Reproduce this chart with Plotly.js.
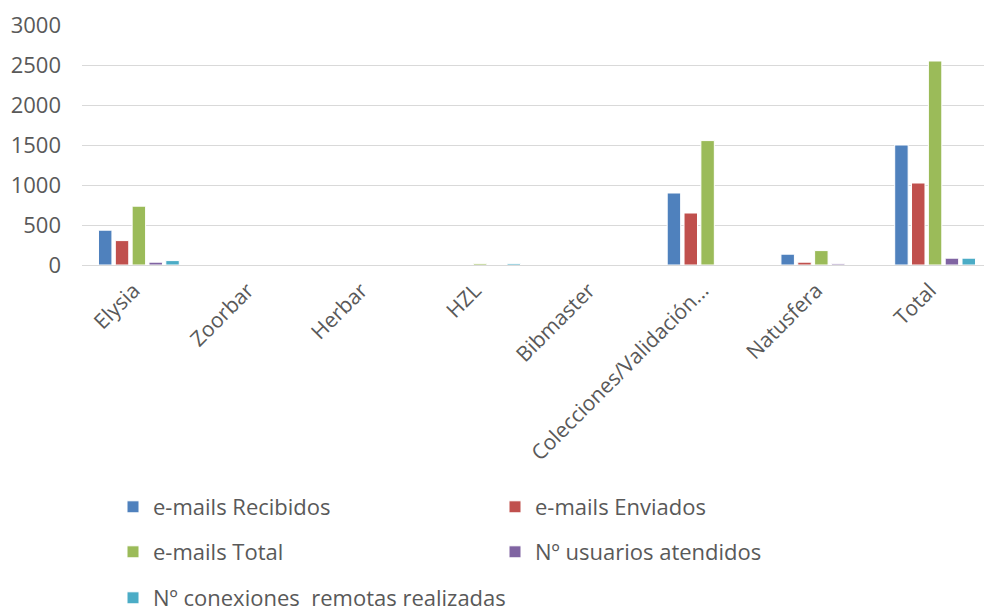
<!DOCTYPE html>
<html>
<head>
<meta charset="utf-8">
<script src="https://cdn.plot.ly/plotly-3.0.1.min.js"></script>
<style>html,body{margin:0;padding:0;background:#fff;}#chart{width:984px;height:611px;}</style>
</head>
<body>
<div id="chart"></div>
<script>
const categories = ["Elysia", "Zoorbar", "Herbar", "HZL", "Bibmaster", "Colecciones/Validación...", "Natusfera", "Total"];
const emailsRecibidos = [435, 0, 0, 0, 0, 900, 135, 1500];
const emailsEnviados = [305, 0, 0, 0, 0, 650, 35, 1025];
const emailsTotal = [735, 0, 0, 20, 0, 1555, 180, 2550];
const usuariosAtendidos = [35, 0, 0, 0, 0, 0, 15, 85];
const conexionesRemotas = [55, 0, 0, 20, 0, 0, 0, 85];
const seriesNames = ["e-mails Recibidos", "e-mails Enviados", "e-mails Total", "Nº usuarios atendidos", "Nº conexiones  remotas realizadas"];
const yTicks = [0, 500, 1000, 1500, 2000, 2500, 3000];

const colors = ["#4F81BD", "#C0504D", "#9BBB59", "#8064A2", "#4BACC6"];
const values = [emailsRecibidos, emailsEnviados, emailsTotal, usuariosAtendidos, conexionesRemotas];
const legendIds = ["legend", "legend", "legend2", "legend2", "legend3"];
const FONT = "Open Sans, Noto Sans, sans-serif";

const data = values.map((v, i) => ({
  type: "bar",
  name: seriesNames[i],
  x: categories,
  y: v,
  marker: {color: colors[i], line: {color: "#ffffff", width: 1}},
  legend: legendIds[i],
  hoverinfo: "x+y+name"
}));

const PH = 611;
function lg(py, ew) {
  const o = {
    orientation: "h",
    xref: "container", yref: "container",
    x: 113 / 984, xanchor: "left",
    y: 1 - py / PH, yanchor: "middle",
    font: {family: FONT, size: 22, color: "#595959"},
    bgcolor: "rgba(0,0,0,0)",
    itemclick: false, itemdoubleclick: false
  };
  if (ew) { o.entrywidth = ew; o.entrywidthmode = "pixels"; }
  return o;
}

const layout = {
  width: 984, height: 611,
  margin: {l: 82, r: 0, t: 25, b: 346, pad: 0, autoexpand: false},
  paper_bgcolor: "#ffffff", plot_bgcolor: "#ffffff",
  barmode: "group",
  bargap: 0.26,
  bargroupgap: 0.2,
  font: {family: FONT, color: "#595959"},
  xaxis: {
    type: "category",
    range: [-0.5, 7.43],
    tickangle: -45,
    tickfont: {family: FONT, size: 21, color: "#595959"},
    showgrid: false, zeroline: false, showline: false,
    ticks: "", ticklabelstandoff: 8, ticklabelshift: -5, automargin: false
  },
  yaxis: {
    range: [0, 3000],
    tickvals: yTicks,
    ticktext: yTicks.map(String),
    tickfont: {family: FONT, size: 22, color: "#595959"},
    gridcolor: "#D9D9D9", gridwidth: 1.3,
    zeroline: true, zerolinecolor: "#D9D9D9", zerolinewidth: 1.3,
    showline: false, ticks: "", ticklabelstandoff: 20, automargin: false
  },
  legend: lg(507, 337),
  legend2: lg(552, 337),
  legend3: lg(598, 0),
  showlegend: true
};

Plotly.newPlot("chart", data, layout, {displayModeBar: false, staticPlot: false});
</script>
</body>
</html>
